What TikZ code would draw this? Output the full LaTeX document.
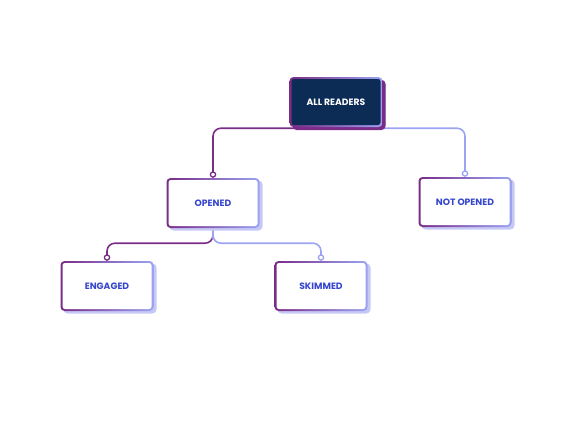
\documentclass[tikz,border=0pt]{standalone}
\usepackage{fontspec}
\setmainfont{Poppins}
\usepackage{tikz}
\usetikzlibrary{arrows.meta,shadows,backgrounds}

\definecolor{plum}{HTML}{7A2C86}
\definecolor{lavender}{HTML}{9CA3F2}
\definecolor{paleviolet}{HTML}{C6C9F6}
\definecolor{navy}{HTML}{0C2B55}
\definecolor{inkblue}{HTML}{3646CC}

\begin{document}
\begin{tikzpicture}[
  x=1pt, y=-1pt,
  font=\fontsize{9.2}{11}\selectfont\bfseries,
  box/.style={rounded corners=4pt, minimum width=93pt, minimum height=50pt,
    align=center, text=inkblue, left color=plum, right color=lavender,
    general shadow={fill=paleviolet, shadow xshift=3pt, shadow yshift=-2.5pt},
    path picture={\fill[white, rounded corners=2.5pt]
      ([shift={(2pt,2pt)}]path picture bounding box.south west) rectangle
      ([shift={(-2pt,-2pt)}]path picture bounding box.north east);}},
  rootbox/.style={box, text=white,
    general shadow={fill=plum, shadow xshift=3pt, shadow yshift=-3pt},
    path picture={\fill[navy, rounded corners=2.5pt]
      ([shift={(2pt,2pt)}]path picture bounding box.south west) rectangle
      ([shift={(-2pt,-2pt)}]path picture bounding box.north east);}},
  link/.style={line width=1.6pt, rounded corners=8pt,
    -{Circle[open, length=6.5pt, width=6.5pt, line width=1.3pt]}},
  leftlink/.style={link, draw=plum},
  rightlink/.style={link, draw=lavender}
]
  \useasboundingbox (0,0) rectangle (575,431);

  \node[rootbox] (all) at (336,102) {ALL READERS};
  \node[box] (opened) at (213,203) {OPENED};
  \node[box] (notopened) at (465,202) {NOT OPENED};
  \node[box] (engaged) at (107,286) {ENGAGED};
  \node[box] (skimmed) at (321,286) {SKIMMED};

  \begin{scope}[on background layer]
    \draw[leftlink] ([yshift=-1pt]all.south) -| (opened.north);
    \draw[rightlink] ([yshift=-1pt]all.south) -| (notopened.north);
    \draw[leftlink] (opened.south) |- ++(0,15) -| (engaged.north);
    \draw[rightlink] (opened.south) |- ++(0,15) -| (skimmed.north);
  \end{scope}
\end{tikzpicture}
\end{document}
